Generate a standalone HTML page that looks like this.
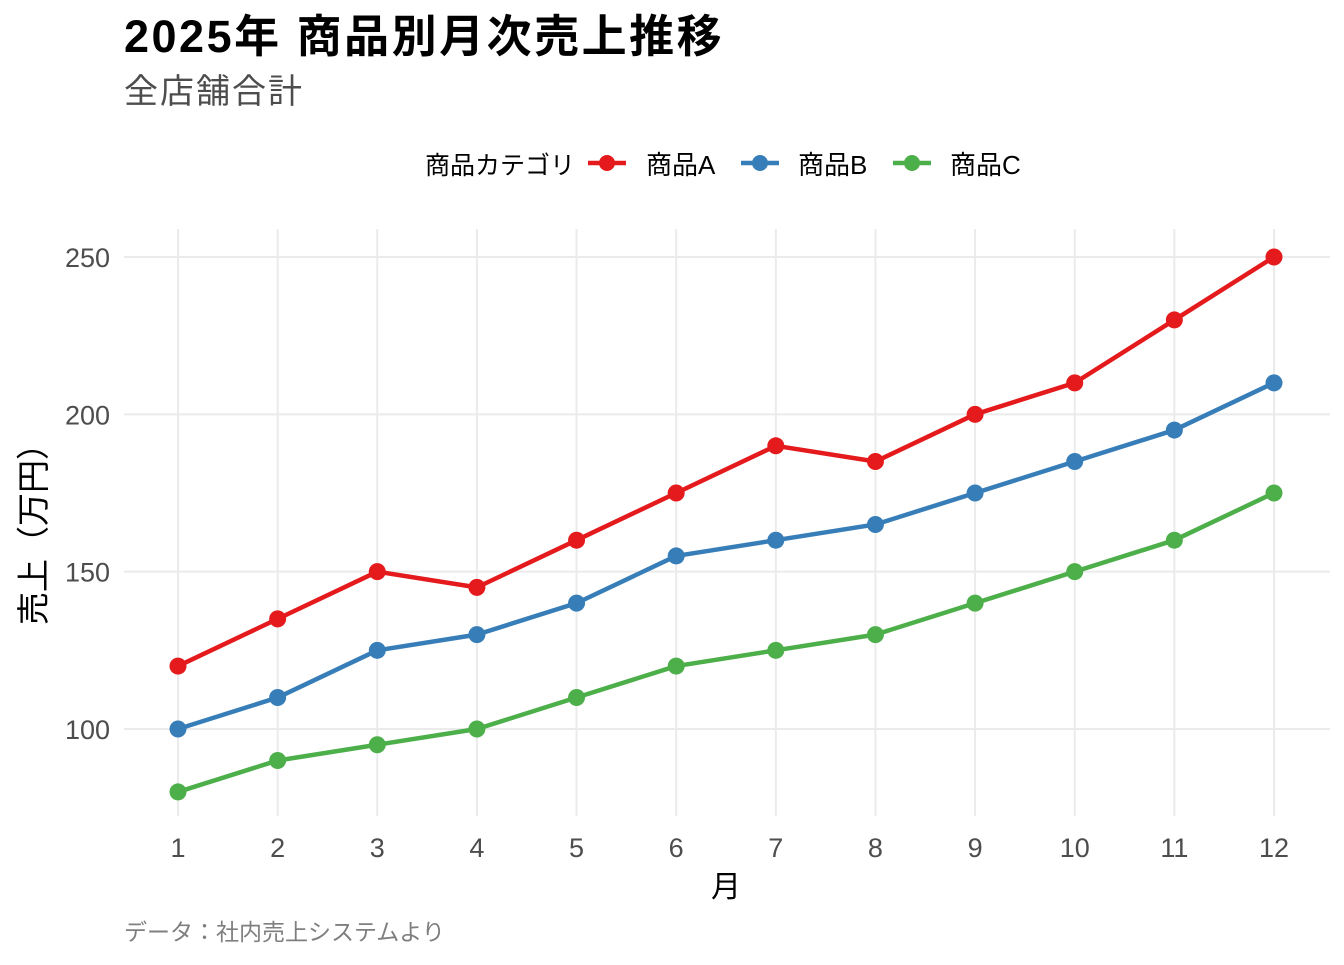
<!DOCTYPE html>
<html><head><meta charset="utf-8"><style>
html,body{margin:0;padding:0;background:#fff;}
text{font-family:"Liberation Sans","Noto Sans CJK JP",sans-serif;}
</style></head><body>
<svg id="s" width="1344" height="960" xmlns="http://www.w3.org/2000/svg">
<rect width="1344" height="960" fill="#fff"/>
<text x="124" y="52" font-size="45" font-weight="bold" letter-spacing="2.5" fill="#000">2025年 商品別月次売上推移</text>
<text x="124" y="103" font-size="34" letter-spacing="2" fill="#4d4d4d">全店舗合計</text>
<text x="425" y="174" font-size="25" fill="#000">商品カテゴリ</text>
<line x1="588" y1="163" x2="626" y2="163" stroke="#E41A1C" stroke-width="4.5"/><circle cx="607" cy="163" r="8" fill="#E41A1C"/>
<text x="646" y="174" font-size="26" fill="#000">商品A</text>
<line x1="741" y1="163" x2="779" y2="163" stroke="#377EB8" stroke-width="4.5"/><circle cx="760" cy="163" r="8" fill="#377EB8"/>
<text x="798" y="174" font-size="26" fill="#000">商品B</text>
<line x1="893" y1="163" x2="931" y2="163" stroke="#4DAF4A" stroke-width="4.5"/><circle cx="912" cy="163" r="8" fill="#4DAF4A"/>
<text x="950" y="174" font-size="26" fill="#000">商品C</text>
<g id="g"></g>
<text x="726" y="897" font-size="30" fill="#000" text-anchor="middle">月</text>
<text transform="translate(45,526) rotate(-90)" font-size="33" fill="#000" text-anchor="middle">売上（万円）</text>
<text x="124" y="940" font-size="23" fill="#7f7f7f">データ：社内売上システムより</text>
</svg>
<script>
var g=document.getElementById('g'),h='';
function X(m){return 178+(m-1)*99.636;}
function Y(v){return 729-(v-100)*3.1467;}
for(var m=1;m<=12;m++){h+='<line x1="'+X(m)+'" y1="229" x2="'+X(m)+'" y2="816" stroke="#ebebeb" stroke-width="2"/>';
h+='<text x="'+X(m)+'" y="857" font-size="27" fill="#4d4d4d" text-anchor="middle">'+m+'</text>';}
[100,150,200,250].forEach(function(v){h+='<line x1="124" y1="'+Y(v)+'" x2="1330" y2="'+Y(v)+'" stroke="#ebebeb" stroke-width="2"/>';
h+='<text x="110" y="'+(Y(v)+10)+'" font-size="27" fill="#4d4d4d" text-anchor="end">'+v+'</text>';});
var d=[["#E41A1C",[120,135,150,145,160,175,190,185,200,210,230,250]],
["#377EB8",[100,110,125,130,140,155,160,165,175,185,195,210]],
["#4DAF4A",[80,90,95,100,110,120,125,130,140,150,160,175]]];
d.forEach(function(s){var p=s[1].map(function(v,i){return X(i+1)+','+Y(v);}).join(' ');
h+='<polyline points="'+p+'" fill="none" stroke="'+s[0]+'" stroke-width="4.5" stroke-linejoin="round"/>';
s[1].forEach(function(v,i){h+='<circle cx="'+X(i+1)+'" cy="'+Y(v)+'" r="8.5" fill="'+s[0]+'"/>';});});
g.innerHTML=h;
</script>
</body></html>
